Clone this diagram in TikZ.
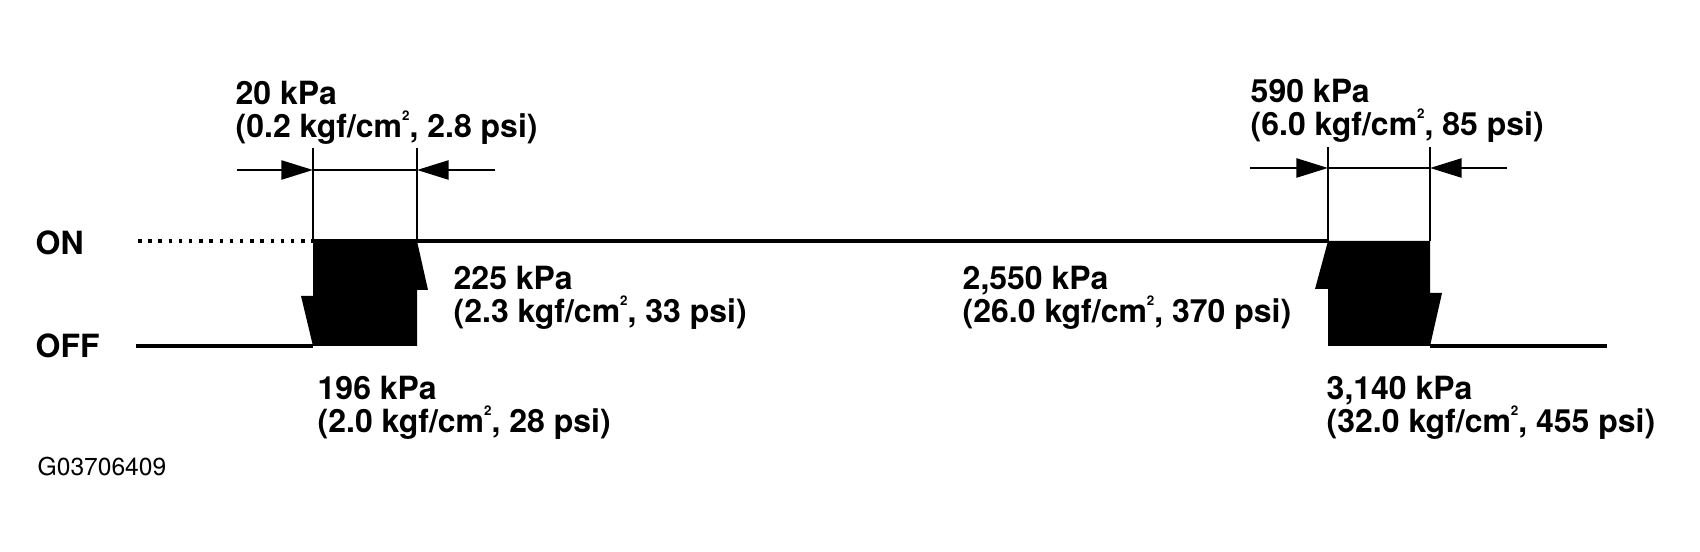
\documentclass[tikz,border=0pt]{standalone}
\usepackage{fontspec}
\setmainfont{TeX Gyre Heros}
\usetikzlibrary{arrows.meta}
\newcommand\cmsq{cm\raisebox{4.8pt}{\fontsize{3.8}{4}\selectfont 2}}
\begin{document}
\begin{tikzpicture}[x=0.1mm, y=-0.1mm,
		level/.style={line width=1pt},
		guide/.style={line width=0.6pt},
		dim/.style={line width=0.7pt, -{Triangle[length=9pt, width=5.4pt]}},
		value/.style={anchor=north west, inner sep=0pt, align=left, font=\bfseries\fontsize{9.1}{9.4}\selectfont}]
	\useasboundingbox (0,0) rectangle (1700,552);

	% switch points
	\coordinate (d) at (138,241);
	\coordinate (a1) at (313,241);
	\coordinate (a2) at (417,241);
	\coordinate (b1) at (1328,241);
	\coordinate (b2) at (1430,241);
	\coordinate (o) at (136,346);
	\coordinate (a3) at (313,346);
	\coordinate (b4) at (1430,346);
	\coordinate (e) at (1607,346);

	% dimension marks
	\coordinate (l0) at (237,170);
	\coordinate (l1) at (313,170);
	\coordinate (l2) at (417,170);
	\coordinate (l3) at (495,170);
	\coordinate (r0) at (1250,168);
	\coordinate (r1) at (1328,168);
	\coordinate (r2) at (1430,168);
	\coordinate (r3) at (1507,168);

	\fill (313,241) -- (417,241) -- (428,290) -- (417,290) -- (417,346) -- (313,346) -- (301,296) -- (313,296) -- cycle;
	\fill (1328,241) -- (1430,241) -- (1430,293) -- (1442,293) -- (1430,346) -- (1328,346) -- (1328,289) -- (1315,289) -- cycle;

	\draw[level, dash pattern=on 1pt off 1.9pt] (d) -- (a1);
	\draw[level] (a1) -- (b1);
	\draw[level] (o) -- (a3);
	\draw[level] (b4) -- (e);

	\draw[guide] (313,148) -- (a1);
	\draw[guide] (417,148) -- (a2);
	\draw[guide] (1328,147) -- (b1);
	\draw[guide] (1430,147) -- (b2);

	\draw[dim] (l0) -- (l1);
	\draw[guide] (l1) -- (l2);
	\draw[dim] (l3) -- (l2);
	\draw[dim] (r0) -- (r1);
	\draw[guide] (r1) -- (r2);
	\draw[dim] (r3) -- (r2);

	\begin{scope}[every node/.style={value}]
		\node (p20) at (235,80) {20 kPa\\(0.2 kgf/\cmsq, 2.8 psi)};
		\node (p590) at (1250,78) {590 kPa\\(6.0 kgf/\cmsq, 85 psi)};
		\node (p225) at (453,265) {225 kPa\\(2.3 kgf/\cmsq, 33 psi)};
		\node (p2550) at (962,265) {2,550 kPa\\(26.0 kgf/\cmsq, 370 psi)};
		\node (p196) at (317,375) {196 kPa\\(2.0 kgf/\cmsq, 28 psi)};
		\node (p3140) at (1326,375) {3,140 kPa\\(32.0 kgf/\cmsq, 455 psi)};
	\end{scope}

	\node[value, anchor=west] (on) at (35,243) {ON};
	\node[value, anchor=west] (off) at (35,346) {OFF};
	\node[anchor=west, inner sep=0pt, font=\fontsize{7}{8}\selectfont] (id) at (37,467) {G03706409};
\end{tikzpicture}
\end{document}
